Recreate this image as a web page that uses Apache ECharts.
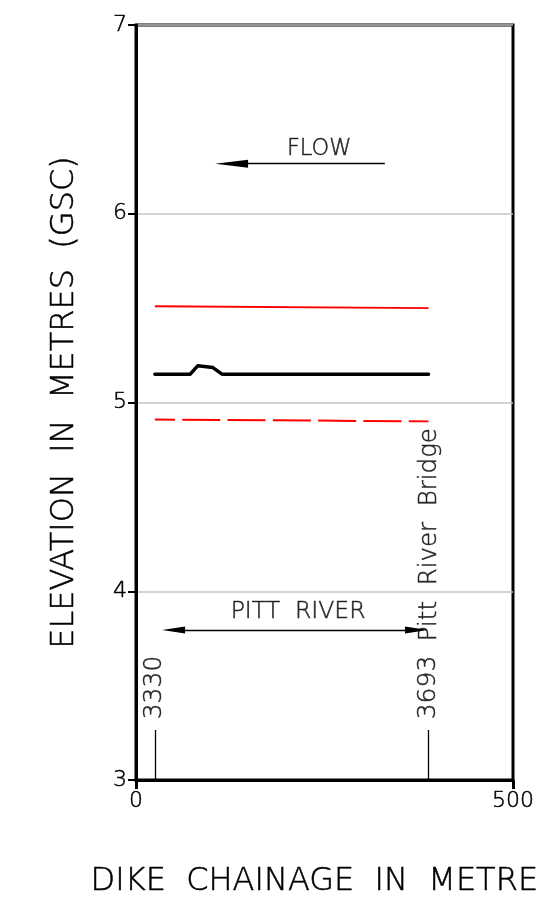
<!DOCTYPE html>
<html><head><meta charset="utf-8">
<script src="https://cdn.jsdelivr.net/npm/echarts@6/dist/echarts.min.js"></script>
<style>html,body{margin:0;padding:0;background:#fff}#c{width:537px;height:906px}</style>
</head><body><div id="c"></div>
<script>
// Local chainage (m) = dike chainage - 3305
const yTicks = [3, 4, 5, 6, 7];
const xTicks = [0, 500];
const redSolidX = [25, 388];
const redSolidY = [5.51, 5.50];
const crestX = [25, 72, 82, 102, 114, 388];
const crestY = [5.15, 5.15, 5.195, 5.185, 5.15, 5.15];
const redDashX = [25, 388];
const redDashY = [4.91, 4.90];
// annotation anchors
const flowArrow = [[330, 6.265], [126.7, 6.265]];
const pittArrow = [[49.8, 3.795], [372, 3.795]];
const leaderLines = [[[25, 3], [25, 3.265]], [[388, 3], [388, 3.265]]];
const textLabels = [
  {text: 'FLOW', x: 243, y: 6.34, rotate: 0, size: 22.5},
  {text: 'PITT  RIVER', x: 215, y: 3.89, rotate: 0, size: 23.5},
  {text: '3330', x: 25, y: 3.49, rotate: 90, size: 25},
  {text: '3693', x: 388, y: 3.49, rotate: 90, size: 25},
  {text: 'Pitt  River  Bridge', x: 389, y: 4.30, rotate: 90, size: 24.5}
];

const F = 'DejaVu Sans';
const thin = {fontFamily: F, fontWeight: 200, color: '#000', textBorderColor: '#000', textBorderWidth: 0.5};
const arrowPath = 'path://M5,0 L10,40 L0,40 Z';
const zip = (xs, ys) => xs.map((x, i) => [x, ys[i]]);

const chart = echarts.init(document.getElementById('c'));
chart.setOption({
  animation: false,
  backgroundColor: '#fff',
  grid: {left: 136, right: 24, top: 25, bottom: 126, containLabel: false, outerBoundsMode: 'none',
         show: true, borderColor: '#000', borderWidth: 3, backgroundColor: 'transparent'},
  xAxis: {
    type: 'value', min: 0, max: 500, interval: 500,
    name: 'DIKE  CHAINAGE  IN  METRES', nameLocation: 'middle', nameGap: 86,
    nameTextStyle: Object.assign({fontSize: 32}, thin),
    axisLine: {show: true, lineStyle: {color: '#000', width: 3}},
    axisTick: {show: true, length: 9, lineStyle: {color: '#000', width: 3}},
    axisLabel: Object.assign({fontSize: 22, margin: 10}, thin),
    splitLine: {show: false}
  },
  yAxis: {
    type: 'value', min: 3, max: 7, interval: 1,
    name: 'ELEVATION  IN  METRES  (GSC)', nameLocation: 'middle', nameGap: 55, nameRotate: 90,
    nameTextStyle: Object.assign({fontSize: 32}, thin),
    axisLine: {show: true, lineStyle: {color: '#000', width: 3}},
    axisTick: {show: true, length: 8, lineStyle: {color: '#000', width: 2}},
    axisLabel: Object.assign({fontSize: 22, margin: 9}, thin),
    splitLine: {show: true, lineStyle: {color: '#c4c4c4', width: 1.5}}
  },
  series: [
    {type: 'line', data: zip(redSolidX, redSolidY), symbol: 'none', lineStyle: {color: '#ff0000', width: 2}, z: 3},
    {type: 'line', data: zip(crestX, crestY), symbol: 'none', lineStyle: {color: '#000', width: 3.5, cap: 'round', join: 'round'}, z: 4},
    {type: 'line', data: zip(redDashX, redDashY), symbol: 'none', lineStyle: {color: '#ff0000', width: 2, type: [38, 7.3], dashOffset: 17.9}, z: 3},
    {
      type: 'scatter', symbolSize: 0, silent: true, z: 5,
      data: textLabels.map(t => ({value: [t.x, t.y], label: {formatter: t.text, rotate: t.rotate, fontSize: t.size}})),
      label: Object.assign({show: true, position: 'inside'}, thin),
      markLine: {
        silent: true, animation: false,
        label: {show: false},
        data: [
          [{coord: flowArrow[0], symbol: 'none'}, {coord: flowArrow[1], symbol: arrowPath, symbolSize: [8, 33]}],
          [{coord: pittArrow[0], symbol: arrowPath, symbolSize: [7, 23]}, {coord: pittArrow[1], symbol: arrowPath, symbolSize: [7, 23]}],
          [{coord: leaderLines[0][0], symbol: 'none'}, {coord: leaderLines[0][1], symbol: 'none'}],
          [{coord: leaderLines[1][0], symbol: 'none'}, {coord: leaderLines[1][1], symbol: 'none'}]
        ],
        lineStyle: {color: '#000', width: 1.3, type: 'solid'},
        itemStyle: {color: '#000'}
      }
    }
  ]
});
</script></body></html>
